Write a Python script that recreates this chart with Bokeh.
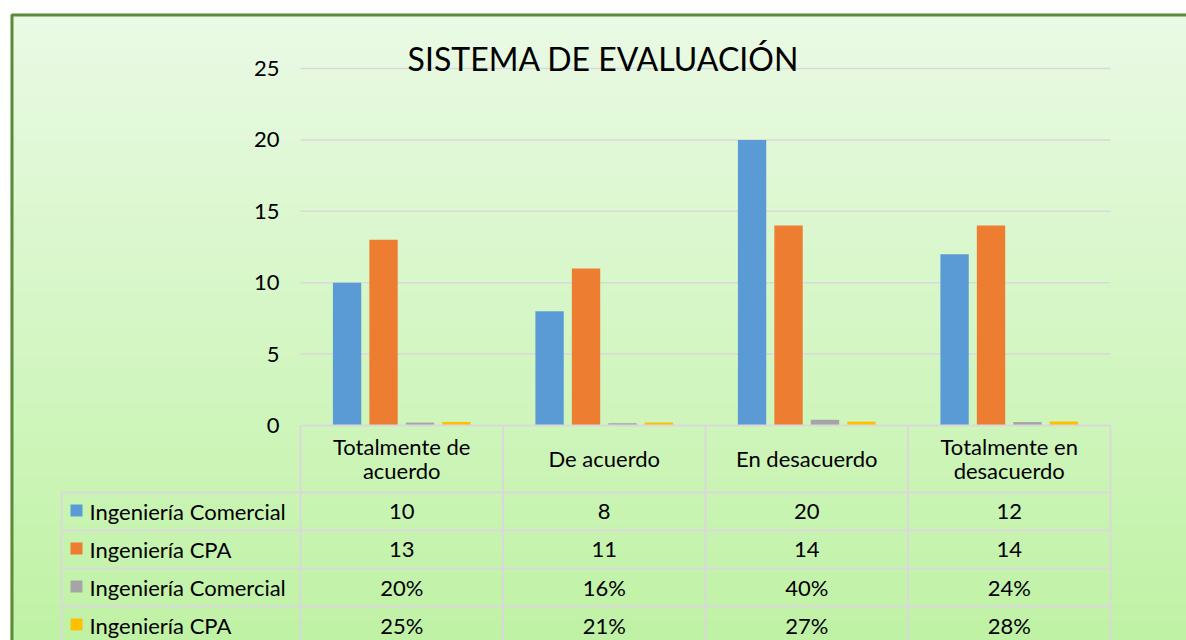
from bokeh.plotting import figure
from bokeh.models import Range1d
from bokeh.core.properties import value
from bokeh.embed import file_html
from bokeh.resources import INLINE

# ---------------- data ----------------
categories = ["Totalmente de acuerdo", "De acuerdo", "En desacuerdo", "Totalmente en desacuerdo"]
header_labels = ["Totalmente de\nacuerdo", "De acuerdo", "En desacuerdo", "Totalmente en\ndesacuerdo"]
series_names = ["Ingeniería  Comercial", "Ingeniería CPA", "Ingeniería  Comercial", "Ingeniería CPA"]
com_counts = [10, 8, 20, 12]
cpa_counts = [13, 11, 14, 14]
com_pct = [0.20, 0.16, 0.40, 0.24]
cpa_pct = [0.25, 0.21, 0.27, 0.28]
y_ticks = [0, 5, 10, 15, 20, 25]
title_text = "SISTEMA DE EVALUACIÓN"

series_values = [com_counts, cpa_counts, com_pct, cpa_pct]
series_labels = [
    [str(v) for v in com_counts],
    [str(v) for v in cpa_counts],
    [f"{round(v * 100)}%" for v in com_pct],
    [f"{round(v * 100)}%" for v in cpa_pct],
]
colors = ["#5b9bd5", "#ed7d31", "#a5a5a5", "#ffc000"]
offsets = [-0.27, -0.09, 0.09, 0.27]

# ---------------- layout helpers ----------------
W, H = 1186, 640
OX, OY = 0, 0
COL0, COLW = 300.0, 202.5
BASE, UNIT = 425.0, 14.28


def ux(px):
    return (px - COL0) / COLW


def uy(py):
    return (BASE - py) / UNIT


FONT = value("Lato")
FS = "22px"

p = figure(
    width=W, height=H,
    x_range=Range1d(ux(OX), ux(OX + W)),
    y_range=Range1d(uy(OY + H), uy(OY)),
    x_axis_type=None, y_axis_type=None,
    toolbar_location=None, output_backend="svg",
    min_border=0, outline_line_color=None,
    background_fill_color="white", border_fill_color="white",
)

# background gradient
top_c = (234, 250, 229)
bot_c = (191, 242, 164)
n = 120
y_top, y_bot = 13.0, 645.0
step = (y_bot - y_top) / n
lefts, rights, tops, bottoms, fills = [], [], [], [], []
for i in range(n):
    t = i / (n - 1)
    c = tuple(int(round(top_c[k] + (bot_c[k] - top_c[k]) * t)) for k in range(3))
    lefts.append(ux(10))
    rights.append(ux(1200))
    tops.append(uy(y_top + i * step))
    bottoms.append(uy(y_top + (i + 1) * step + 1.0))
    fills.append("#%02x%02x%02x" % c)
p.quad(left=lefts, right=rights, top=tops, bottom=bottoms, fill_color=fills, line_color=None)

# frame border
p.quad(left=ux(11.5), right=ux(1250), top=uy(14.5), bottom=uy(700),
       fill_color=None, line_color="#5b8a3a", line_width=3)

# horizontal gridlines
grid_y = [t for t in y_ticks if t > 0]
p.segment(x0=[0] * len(grid_y), x1=[len(categories)] * len(grid_y), y0=grid_y, y1=grid_y,
          line_color="#d9d9d9", line_width=1.5)

# bars
for k in range(4):
    xs = [i + 0.5 + offsets[k] for i in range(len(categories))]
    p.vbar(x=xs, top=series_values[k], bottom=0, width=0.14,
           fill_color=colors[k], line_color=None)

# y tick labels
p.text(x=[ux(279)] * len(y_ticks), y=y_ticks, text=[str(t) for t in y_ticks],
       text_align="right", text_baseline="middle", text_font=FONT,
       text_font_size=FS, text_color="#000000")

# title
p.text(x=[ux(603)], y=[uy(58)], text=[title_text], text_align="center",
       text_baseline="middle", text_font=FONT, text_font_size="32px", text_color="#000000")

# table lines
LC = "#d9d9d9"
ncat = len(categories)
row_lines = [492, 530, 568, 606]
p.segment(x0=[0], x1=[ncat], y0=[0], y1=[0], line_color=LC, line_width=2)
p.segment(x0=[ux(61)] * len(row_lines), x1=[ncat] * len(row_lines),
          y0=[uy(r) for r in row_lines], y1=[uy(r) for r in row_lines],
          line_color=LC, line_width=2)
p.segment(x0=list(range(ncat + 1)), x1=list(range(ncat + 1)),
          y0=[0] * (ncat + 1), y1=[uy(660)] * (ncat + 1), line_color=LC, line_width=2)
p.segment(x0=[ux(61)], x1=[ux(61)], y0=[uy(492)], y1=[uy(660)], line_color=LC, line_width=2)

# header
p.text(x=[i + 0.5 for i in range(ncat)], y=[uy(458)] * ncat, text=header_labels,
       text_align="center", text_baseline="middle", text_font=FONT,
       text_font_size=FS, text_color="#000000", text_line_height=0.9)

# rows
row_centers = [511, 549, 587, 625]
for k in range(4):
    rc = row_centers[k]
    p.quad(left=ux(70), right=ux(82), top=uy(rc - 7), bottom=uy(rc + 5),
           fill_color=colors[k], line_color=None)
    p.text(x=[ux(89)], y=[uy(rc)], text=[series_names[k]], text_align="left",
           text_baseline="middle", text_font=FONT, text_font_size=FS, text_color="#000000")
    p.text(x=[i + 0.5 for i in range(ncat)], y=[uy(rc)] * ncat, text=series_labels[k],
           text_align="center", text_baseline="middle", text_font=FONT,
           text_font_size=FS, text_color="#000000")

open("out.html", "w").write(file_html(p, INLINE))
